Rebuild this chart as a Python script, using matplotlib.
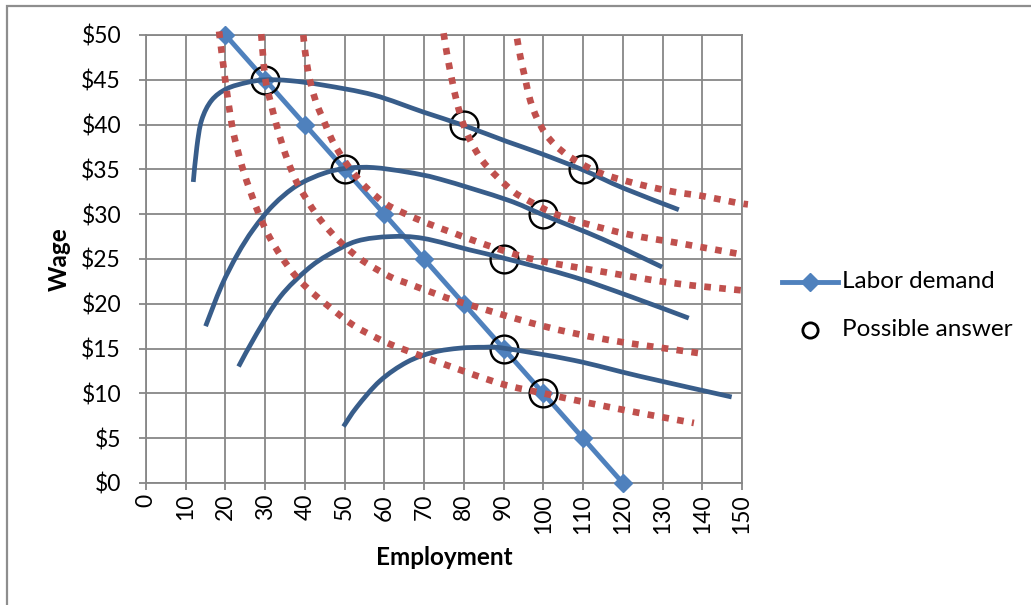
import numpy as np
import matplotlib
matplotlib.use("Agg")
import matplotlib.pyplot as plt
from matplotlib.path import Path
from matplotlib.patches import PathPatch, Rectangle
from matplotlib.lines import Line2D

W, H = 1031, 605
plt.rcParams['font.family'] = ['Lato', 'DejaVu Sans']

# ---------------- data ----------------
x_ticks = list(range(0, 151, 10))
y_ticks = list(range(0, 51, 5))
y_tick_labels = [f"${v}" for v in y_ticks]

demand_L = [20, 30, 40, 50, 60, 70, 80, 90, 100, 110, 120]
demand_w = [50, 45, 40, 35, 30, 25, 20, 15, 10, 5, 0]

answer_L = [30, 50, 80, 90, 90, 100, 100, 110]
answer_w = [45, 35, 40, 25, 15, 30, 10, 35]

# dark blue curves
curveA_L = [11.9, 12.8, 14.0, 16.5, 20.3, 25.4, 30.0, 36.3, 44.7, 57.3, 69.8, 80.0, 90.9, 99.2, 110.2, 120.2, 134.1]
curveA_w = [33.6, 37.5, 40.5, 42.7, 44.0, 44.7, 45.0, 44.9, 44.4, 43.3, 41.4, 39.9, 38.1, 36.8, 34.9, 32.9, 30.5]

curveB_L = [15.0, 19.0, 23.0, 27.0, 32.0, 38.0, 45.0, 51.0, 57.3, 65.7, 74.1, 90.9, 100.1, 115.0, 129.9]
curveB_w = [17.5, 22.0, 25.5, 28.3, 31.0, 33.2, 34.6, 35.15, 35.2, 34.7, 33.9, 31.6, 29.9, 27.2, 24.1]

curveC_L = [23.3, 27.9, 33.8, 40.5, 46.0, 53.1, 61.5, 69.8, 81.6, 90.0, 107.6, 122.0, 136.6]
curveC_w = [13.0, 16.7, 20.8, 23.8, 25.5, 27.0, 27.5, 27.3, 26.0, 25.1, 23.0, 20.8, 18.4]

curveD_L = [49.7, 53.1, 58.9, 65.7, 72.4, 79.0, 85.0, 90.0, 107.6, 124.4, 147.4]
curveD_w = [6.3, 8.5, 11.4, 13.5, 14.6, 15.05, 15.15, 15.05, 13.7, 11.9, 9.6]

# red dotted curves
red1_L = [18.4, 19.9, 21.6, 22.8, 24.4, 26.3, 28.6, 31.0, 34.0, 37.1, 40.0, 43.0, 46.3, 52.2, 58.9, 63.1, 69.8, 74.1, 89.2, 100.1, 111.8, 124.4, 137.9]
red1_w = [50.4, 45.1, 40.0, 37.6, 35.0, 32.5, 29.8, 27.5, 25.3, 23.4, 22.0, 20.8, 19.6, 17.6, 16.0, 15.2, 14.1, 13.4, 11.1, 10.0, 8.9, 7.8, 6.7]

red2_L = [29.0, 30.0, 31.3, 32.7, 34.2, 35.9, 38.0, 40.5, 43.0, 45.5, 48.9, 52.2, 55.6, 61.5, 65.7, 72.4, 78.3, 99.2, 116.0, 139.1]
red2_w = [50.1, 45.2, 42.6, 40.2, 37.9, 35.7, 33.5, 31.6, 29.9, 28.5, 26.9, 25.6, 24.5, 23.0, 22.3, 21.2, 20.3, 17.6, 16.0, 14.5]

red3_L = [39.6, 40.0, 40.9, 42.1, 43.4, 44.7, 46.8, 49.3, 52.2, 55.6, 60.2, 64.0, 70.7, 77.4, 81.6, 90.9, 99.2, 116.0, 132.8, 150.0]
red3_w = [50.0, 48.3, 45.7, 43.5, 41.8, 40.5, 38.3, 36.4, 34.6, 32.9, 31.2, 30.3, 29.0, 27.9, 27.2, 25.8, 24.8, 23.5, 22.3, 21.5]

red4_L = [74.9, 75.7, 77.0, 78.3, 79.9, 82.0, 84.6, 88.3, 92.5, 95.9, 102.6, 110.2, 121.9, 133.7, 148.8]
red4_w = [50.2, 48.0, 45.0, 42.4, 40.0, 37.9, 36.0, 34.2, 32.5, 31.6, 30.1, 29.0, 27.7, 26.8, 25.6]

red5_L = [93.4, 94.2, 95.5, 96.7, 98.4, 100.5, 103.0, 106.0, 109.3, 112.7, 116.9, 124.4, 132.8, 140.4, 148.4, 151.5]
red5_w = [49.6, 47.6, 45.0, 42.7, 40.7, 39.0, 37.7, 36.6, 35.7, 34.9, 34.2, 33.3, 32.5, 32.0, 31.3, 31.1]

legend_labels = ["Labor demand", "Possible answer"]
x_label = "Employment"
y_label = "Wage"

# ---------------- style ----------------
C_DEMAND = '#4F81BD'
C_DARK = '#385D8A'
C_RED = '#C0504D'
C_GRID = '#878787'
FS_TICK = 16.5
FS_LABEL = 17.5
FS_LEG = 17.5


def smooth_path(xs, ys):
    """Smoothed line (like a spreadsheet 'smoothed line') as Bezier path."""
    pts = np.column_stack([xs, ys]).astype(float)
    n = len(pts)
    verts = [pts[0]]
    codes = [Path.MOVETO]
    for i in range(n - 1):
        p0 = pts[i - 1] if i > 0 else pts[i]
        p1 = pts[i]
        p2 = pts[i + 1]
        p3 = pts[i + 2] if i + 2 < n else pts[i + 1]
        c1 = p1 + (p2 - p0) / 6.0
        c2 = p2 - (p3 - p1) / 6.0
        verts += [c1, c2, p2]
        codes += [Path.CURVE4] * 3
    return Path(verts, codes)


fig = plt.figure(figsize=(W / 100, H / 100), dpi=100)
ax = fig.add_axes([146 / W, (H - 483) / H, 596 / W, 448 / H])
ax.set_xlim(0, 150)
ax.set_ylim(0, 50)
ax.set_xticks(x_ticks)
ax.set_xticklabels([str(v) for v in x_ticks], rotation=90)
ax.set_yticks(y_ticks)
ax.set_yticklabels(y_tick_labels)
ax.grid(True, color=C_GRID, lw=1.3)
ax.set_axisbelow(True)
for s in ax.spines.values():
    s.set_color(C_GRID)
    s.set_linewidth(1.3)
ax.tick_params(axis='both', direction='out', length=5, width=1.3, color=C_GRID,
               labelsize=FS_TICK, labelcolor='black')
ax.tick_params(axis='y', pad=13)
ax.tick_params(axis='x', pad=3)
ax.set_xlabel(x_label, fontsize=FS_LABEL, fontweight='bold')
ax.set_ylabel(y_label, fontsize=FS_LABEL, fontweight='bold')
ax.xaxis.set_label_coords(0.5, (483 - 546) / 448)
ax.yaxis.set_label_coords((71 - 146) / 596, 0.5)

# demand line
ax.plot(demand_L, demand_w, color=C_DEMAND, lw=3.5, marker='D', ms=9.5,
        mfc=C_DEMAND, mec=C_DEMAND, zorder=3, clip_on=False)

# possible answers
ax.plot(answer_L, answer_w, ls='none', marker='o', ms=20, mfc='none',
        mec='black', mew=1.7, zorder=4, clip_on=False)

# dark curves
for xs, ys in [(curveA_L, curveA_w), (curveB_L, curveB_w),
               (curveC_L, curveC_w), (curveD_L, curveD_w)]:
    ax.add_patch(PathPatch(smooth_path(xs, ys), fill=False, ec=C_DARK, lw=3.4,
                           capstyle='butt', zorder=5, clip_on=False))

# red dotted curves
for xs, ys in [(red1_L, red1_w), (red2_L, red2_w), (red3_L, red3_w),
               (red4_L, red4_w), (red5_L, red5_w)]:
    ax.add_patch(PathPatch(smooth_path(xs, ys), fill=False, ec=C_RED, lw=4.8,
                           linestyle=(0, (1.0, 1.25)), capstyle='butt',
                           zorder=6, clip_on=False))

# legend (drawn manually)
ly1 = 1 - 282 / H
ly2 = 1 - 330 / H
fig.add_artist(Line2D([782 / W, 838 / W], [ly1, ly1], color=C_DEMAND, lw=3.5,
                      transform=fig.transFigure))
fig.add_artist(Line2D([810 / W], [ly1], color=C_DEMAND, marker='D', ms=9.5,
                      ls='none', transform=fig.transFigure))
fig.add_artist(Line2D([810 / W], [ly2], color='black', marker='o', ms=11,
                      mfc='none', mew=2.0, ls='none', transform=fig.transFigure))
fig.text(842 / W, ly1, legend_labels[0], fontsize=FS_LEG, va='center', ha='left')
fig.text(842 / W, ly2, legend_labels[1], fontsize=FS_LEG, va='center', ha='left')

# chart border
fig.add_artist(Rectangle((7 / W, -0.05), 1.2, 1 - 6 / H + 0.05,
                         transform=fig.transFigure, fill=False,
                         ec='#8E8E8E', lw=1.6))

fig.savefig('out.png', dpi=100)
